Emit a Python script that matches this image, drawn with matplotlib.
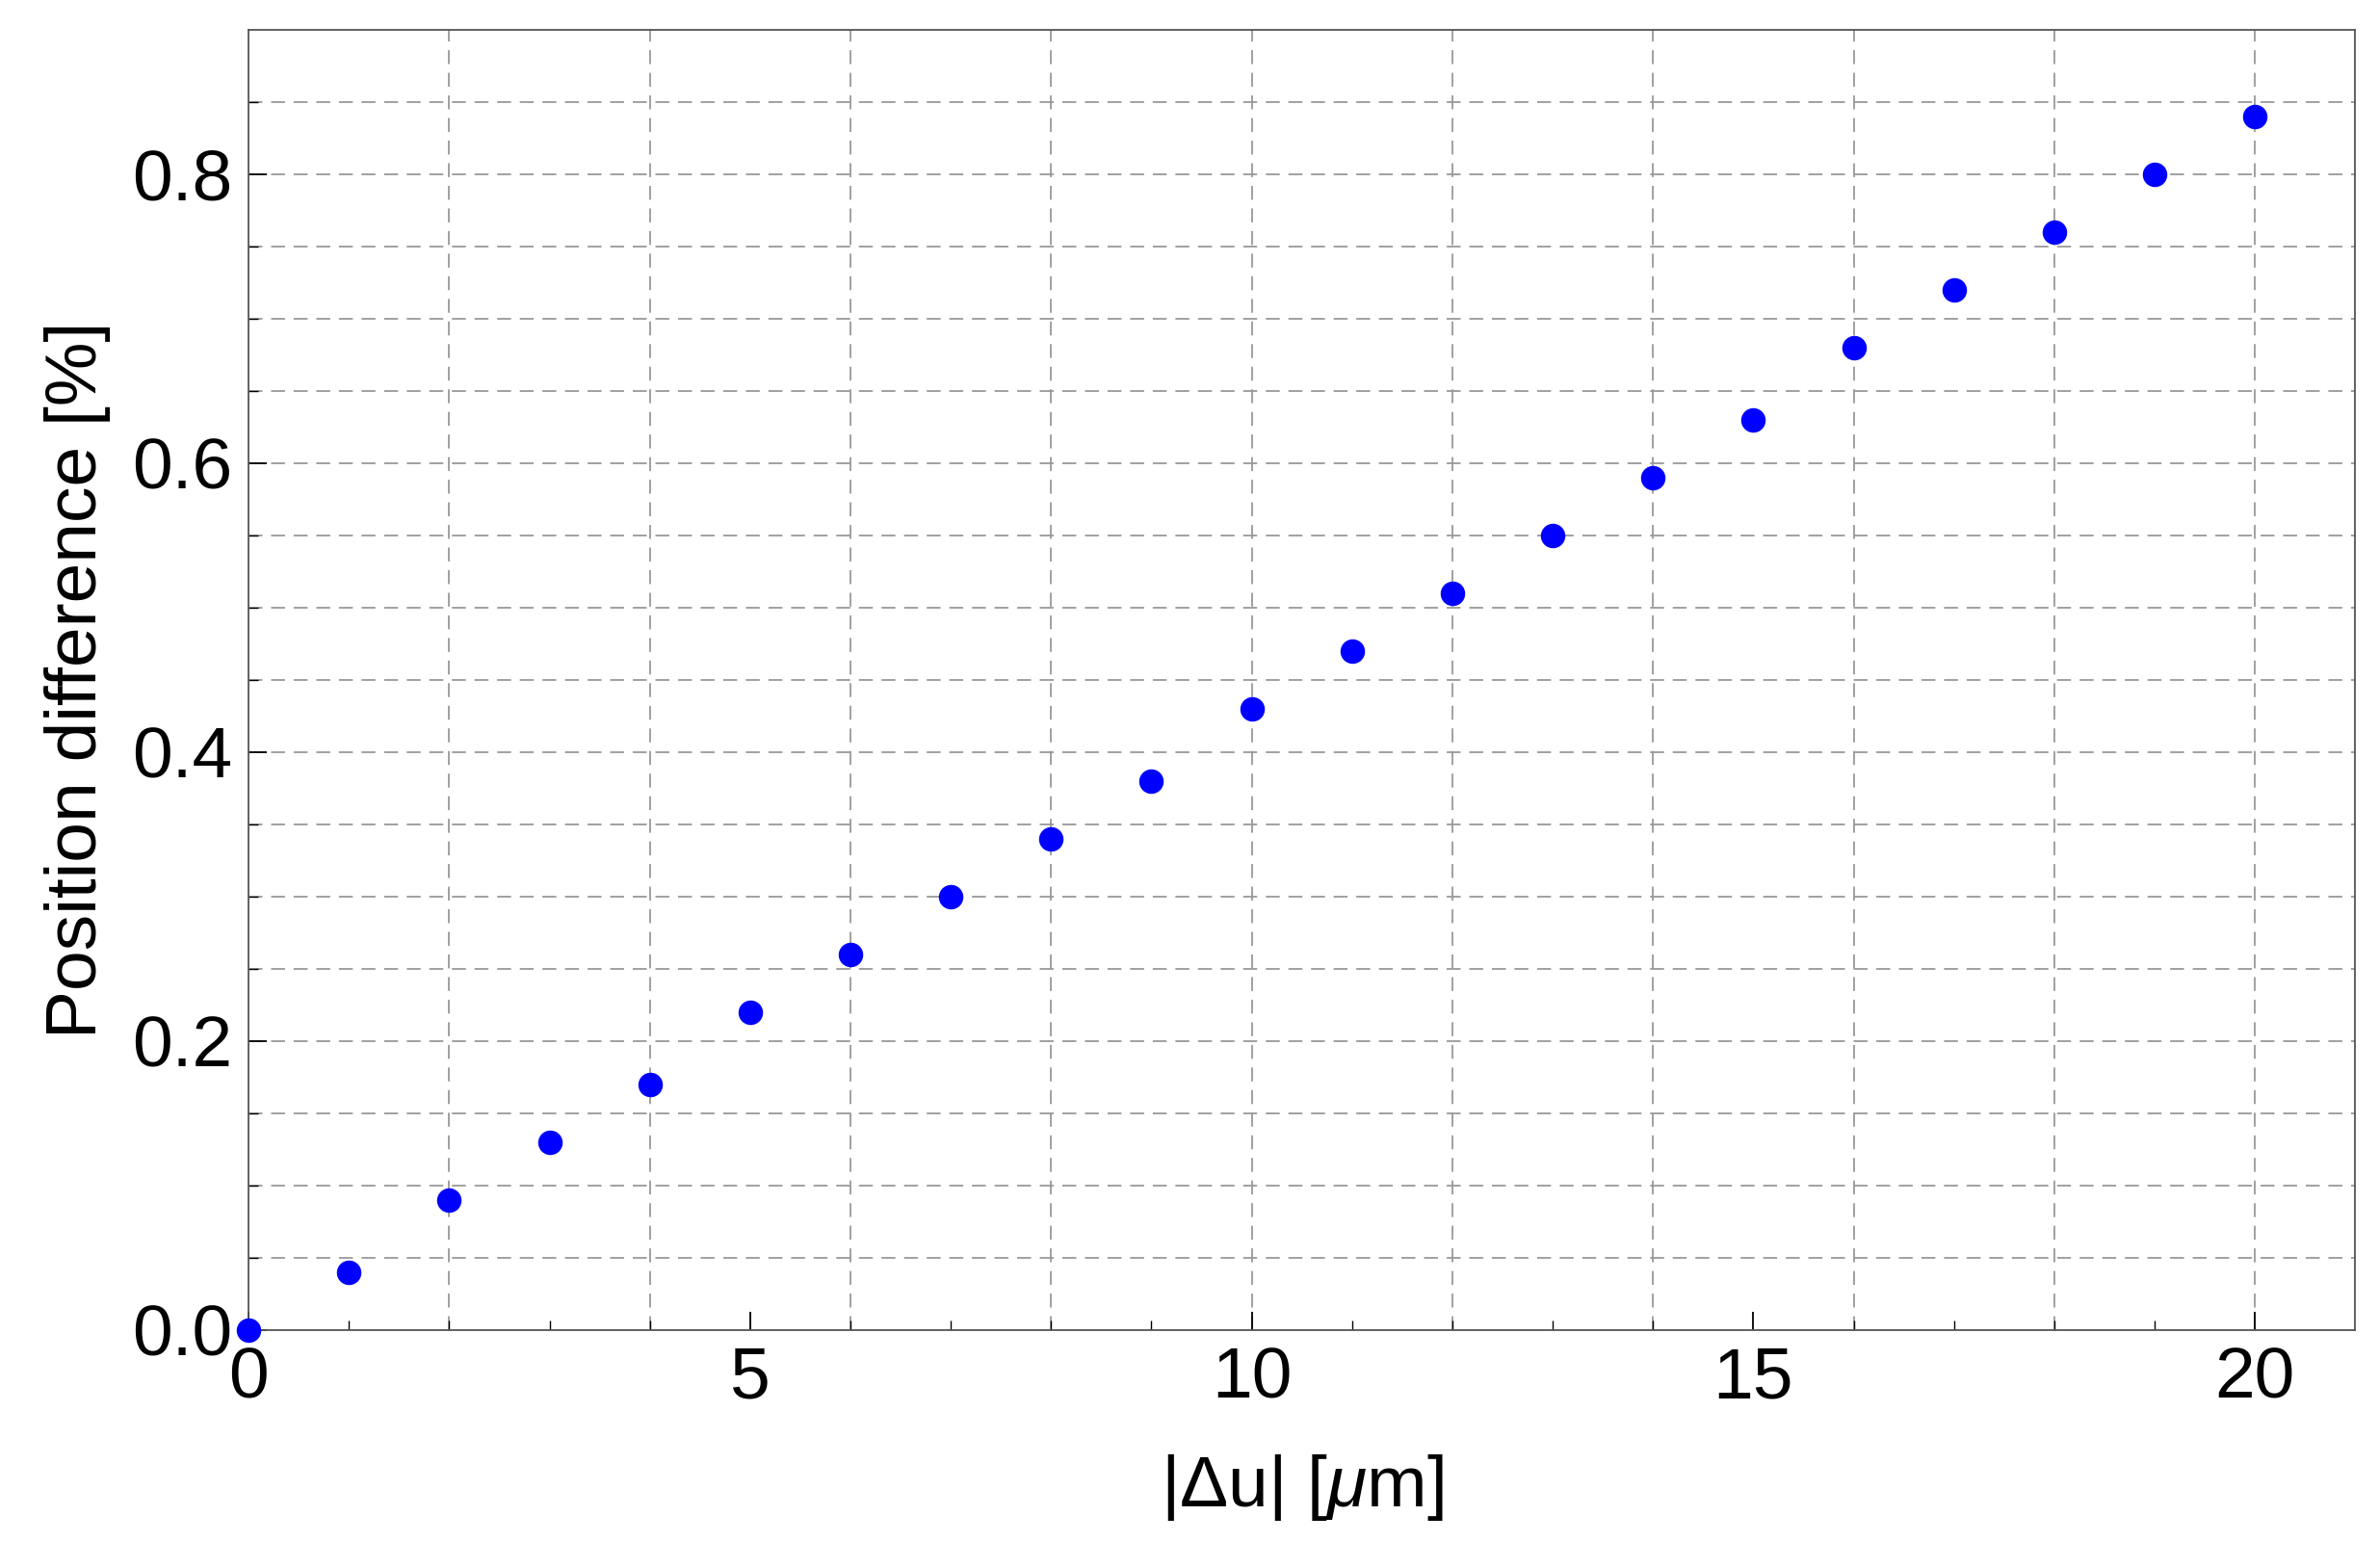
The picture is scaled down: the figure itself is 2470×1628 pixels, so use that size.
import matplotlib.pyplot as plt
import numpy as np

du = list(range(0, 21))
posDiff = [0.0, 0.04, 0.09, 0.13, 0.17, 0.22, 0.26, 0.30, 0.34, 0.38, 0.43,
           0.47, 0.51, 0.55, 0.59, 0.63, 0.68, 0.72, 0.76, 0.80, 0.84]

plt.rcParams['font.family'] = ['Liberation Sans', 'DejaVu Sans']
plt.rcParams['mathtext.fontset'] = 'custom'
plt.rcParams['mathtext.it'] = 'Liberation Sans:italic'

fig = plt.figure(figsize=(24.7, 16.28), dpi=100)
ax = fig.add_axes([0.1045, 0.152, 0.8855, 0.829])

# dashed grid like Mathematica
for gx in np.arange(2, 21, 2):
    ax.axvline(gx, color="#999999", ls=(0, (8, 5)), lw=1.3, zorder=0)
for gy in np.arange(0.05, 0.9, 0.05):
    ax.axhline(gy, color="#999999", ls=(0, (8, 5)), lw=1.3, zorder=0)

ax.scatter(du, posDiff, s=300, color="#0000ff", zorder=3, clip_on=False)

ax.set_xlim(0, 21)
ax.set_ylim(0, 0.9)
ax.set_xticks([0, 5, 10, 15, 20])
ax.set_xticks(np.arange(0, 21, 1), minor=True)
ax.set_yticks([0.0, 0.2, 0.4, 0.6, 0.8])
ax.set_yticks(np.arange(0, 0.9, 0.05), minor=True)
ax.yaxis.set_major_formatter(plt.FormatStrFormatter('%.1f'))
ax.tick_params(which="major", direction="in", length=14, width=1.3, labelsize=54, pad=12)
ax.tick_params(which="minor", direction="in", length=7, width=1.0)
for sp in ax.spines.values():
    sp.set_linewidth(1.3)
    sp.set_color("#555555")

ax.set_xlabel(r"|Δu| [$\mu$m]", fontsize=54, labelpad=30)
ax.set_ylabel("Position difference [%]", fontsize=54, labelpad=16)

fig.savefig("out.png", dpi=100)
